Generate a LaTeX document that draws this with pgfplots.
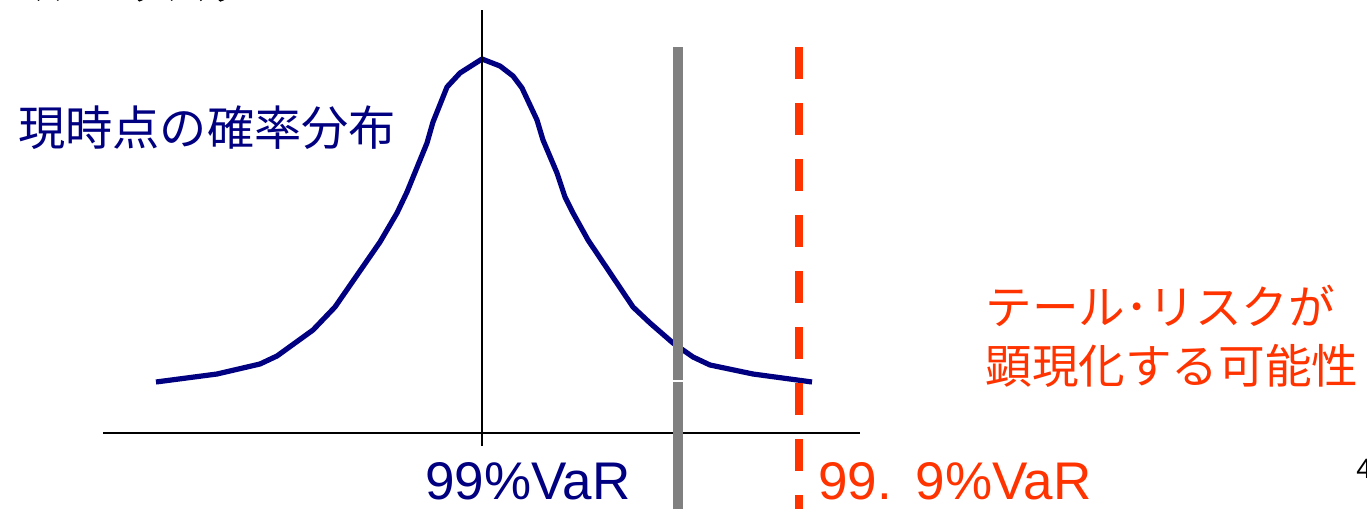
\documentclass[border=0pt]{standalone}
\usepackage{pgfplots}
\pgfplotsset{compat=1.18}
\usepackage{fontspec}
\setmainfont{Liberation Sans}
\newfontfamily\cjk{Noto Sans CJK JP}
\newfontfamily\cjkb{Noto Sans CJK JP}[FakeBold=3]
\definecolor{navy}{RGB}{0,0,128}
\definecolor{tailred}{RGB}{255,51,0}
\definecolor{vargray}{RGB}{128,128,128}
\begin{document}
\begin{tikzpicture}
\begin{axis}[
  scale only axis, width=683.5pt, height=254.5pt,
  xmin=0, xmax=1367, ymin=0, ymax=509, y dir=reverse,
  hide axis, clip=true,
]
% current distribution (pixel coordinates of the slide)
\addplot[navy, line width=2.6pt, line join=round] coordinates {
  (156,382) (217,374) (260,364) (277,356) (313,330) (335,307) (380,242)
  (397,213) (407,192) (427,143) (433,122) (447,87) (460,73) (482,59)
  (500,66) (513,76) (522,88) (537,120) (543,140) (557,173) (565,197)
  (573,213) (588,240) (633,307) (650,323) (673,343) (693,357) (710,365)
  (753,374) (812,382)
};
% axes
\addplot[black, line width=1pt] coordinates {(103,433) (860,433)};
\addplot[black, line width=1pt] coordinates {(482,10) (482,446)};
% 99% VaR
\addplot[vargray, line width=4.6pt] coordinates {(678,47) (678,380)};
\addplot[vargray, line width=4.6pt] coordinates {(678,382) (678,509)};
% 99.9% VaR
\addplot[tailred, line width=4pt, dash pattern=on 16pt off 12pt] coordinates {(799,47) (799,509)};
\addplot[draw=none] coordinates {(0,0) (1367,509)};

\node[anchor=west, text=navy, font=\cjk\fontsize{23.6pt}{27pt}\selectfont, inner sep=0pt] at (axis cs:18,128) {現時点の確率分布};
\node[anchor=west, text=tailred, font=\cjk\fontsize{23.3pt}{29.5pt}\selectfont, inner sep=0pt, align=left] at (axis cs:985,336) {テール･リスクが\\顕現化する可能性};
\node[anchor=base west, text=navy, font=\fontsize{26.5pt}{30pt}\selectfont, inner sep=0pt] at (axis cs:425,499) {99\%VaR};
\node[anchor=base west, text=tailred, font=\fontsize{26.5pt}{30pt}\selectfont, inner sep=0pt] at (axis cs:818,499) {99.\hspace{0.45em}9\%VaR};
\node[anchor=base west, font=\cjkb\fontsize{22pt}{26pt}\selectfont, inner sep=0pt] at (axis cs:-12,-1) {ール・リスク};
\node[anchor=base west, font=\fontsize{14pt}{16pt}\selectfont, inner sep=0pt] at (axis cs:1356,478) {4};
\end{axis}
\pgfresetboundingbox
\useasboundingbox (current axis.south west) rectangle (current axis.north east);
\end{tikzpicture}
\end{document}
